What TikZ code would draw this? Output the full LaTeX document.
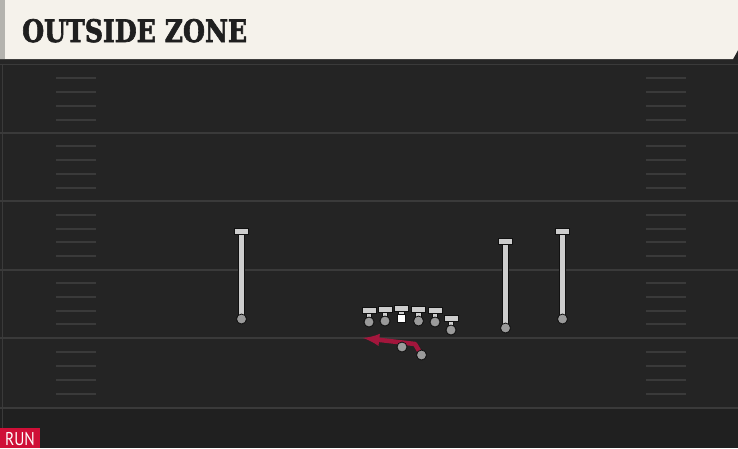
\documentclass[tikz,border=0pt]{standalone}
\usepackage{fontspec}
\usepackage{graphicx}
\newfontfamily\titlefont[FakeBold=2.2]{DejaVu Serif}
\newfontfamily\tagfont{PT Sans}
\definecolor{field}{HTML}{242424}
\definecolor{fieldlow}{HTML}{202020}
\definecolor{yardline}{HTML}{3A3A3A}
\definecolor{cream}{HTML}{F5F2EB}
\definecolor{stripe}{HTML}{B4B3AE}
\definecolor{stemgrey}{HTML}{CDCDCD}
\definecolor{dotgrey}{HTML}{9A9A9A}
\definecolor{outl}{HTML}{111111}
\definecolor{runred}{HTML}{A3163C}
\definecolor{tagred}{HTML}{CF0F37}
\begin{document}
\begin{tikzpicture}[x=1pt, y=-1pt]

      \tikzset{player/.style={draw=outl, circle, inner sep=0pt, minimum size=10pt, fill=dotgrey, line width=0.8pt}}
      \tikzset{snapper/.style={draw=outl, rectangle, inner sep=0pt, minimum size=8pt, fill=white, line width=0.8pt}}
      \tikzset{tbar/.style={draw=outl, rectangle, inner sep=0pt, minimum width=14pt, minimum height=6pt, fill=stemgrey, line width=0.8pt}}
      \tikzset{block/.style={draw=outl, double=stemgrey, double distance=4.6pt, line width=0.8pt}}
      \tikzset{hash/.style={draw=yardline, line width=1.8pt}}

      \useasboundingbox (0,0) rectangle (738,448);
%% Field
      	\fill[field] (0,0) rectangle (738,448);
      	\fill[fieldlow] (0,408) rectangle (738,448);
      	\draw[yardline, line width=1pt] (2,64) -- (2,448);
      	\foreach \y in {64,132.5,201,269.5,338,408}
      		\draw[yardline, line width=2pt] (0,\y) -- (738,\y);
      	\foreach \y in {78,92,106,120,146,160,174,188,215,229,242,256,283,297,311,324,352,366,380,394} {
      		\draw[hash] (56,\y) -- (96,\y);
      		\draw[hash] (646,\y) -- (686,\y);
      	}
%% Title
      	\fill[black!85] (0,58) rectangle (738,64);
      	\fill[cream] (0,0) -- (738,0) -- (738,50) -- (733,59) -- (0,59) -- cycle;
      	\fill[stripe] (0,0) rectangle (5,59);
      	\node[anchor=base west, inner sep=0pt, text=black!88, font=\titlefont\bfseries\fontsize{31}{32}\selectfont] (title) at (22,42) {\resizebox{225pt}{23pt}{OUTSIDE ZONE}};
      	\fill[tagred] (0,428) rectangle (40,448);
      	\node[anchor=base, inner sep=0pt, text=white, font=\tagfont\fontsize{18.5}{18.5}\selectfont] (tag) at (20,445) {\scalebox{0.84}[1]{RUN}};
%% Players
      	\node[player] (wr1) at (241.5,319) {};
      	\node[player] (wr2) at (505.5,328) {};
      	\node[player] (wr3) at (562.5,319) {};
      	\node[player] (lt) at (369,322) {};
      	\node[player] (lg) at (385,321) {};
      	\node[snapper] (c) at (401.5,318) {};
      	\node[player] (rg) at (418.5,321) {};
      	\node[player] (rt) at (435,322) {};
      	\node[player] (te) at (451,330) {};
      	\node[player] (rb) at (421.5,355) {};
      	\coordinate (wr1end) at (241.5,231);
      	\coordinate (wr2end) at (505.5,241);
      	\coordinate (wr3end) at (562.5,231.5);
      	\coordinate (ltend) at (369,310);
      	\coordinate (lgend) at (385,309);
      	\coordinate (cend) at (401.5,308);
      	\coordinate (rgend) at (418.5,309);
      	\coordinate (rtend) at (435,310);
      	\coordinate (teend) at (451,318);
      	\coordinate (cut) at (415,344);
      	\coordinate (rbend) at (363,338);
%Routes
		\foreach \p in {wr1,wr2,wr3,lt,lg,c,rg,rt,te} {
			\draw[block] (\p.center) -- (\p end);
			\node[tbar] (\p bar) at (\p end) {};
		}
		\foreach \p in {wr1,wr2,wr3,lt,lg,rg,rt,te}
			\node[player] at (\p) {};
		\node[snapper] at (c) {};
		\draw [->, >=latex, runred, line width=4.5pt, line join=round] (rb.center) -- (cut) -- (rbend);
		\node[player] (qb) at (402,347) {};
		\node[player] at (rb) {};

	\end{tikzpicture}
\end{document}
